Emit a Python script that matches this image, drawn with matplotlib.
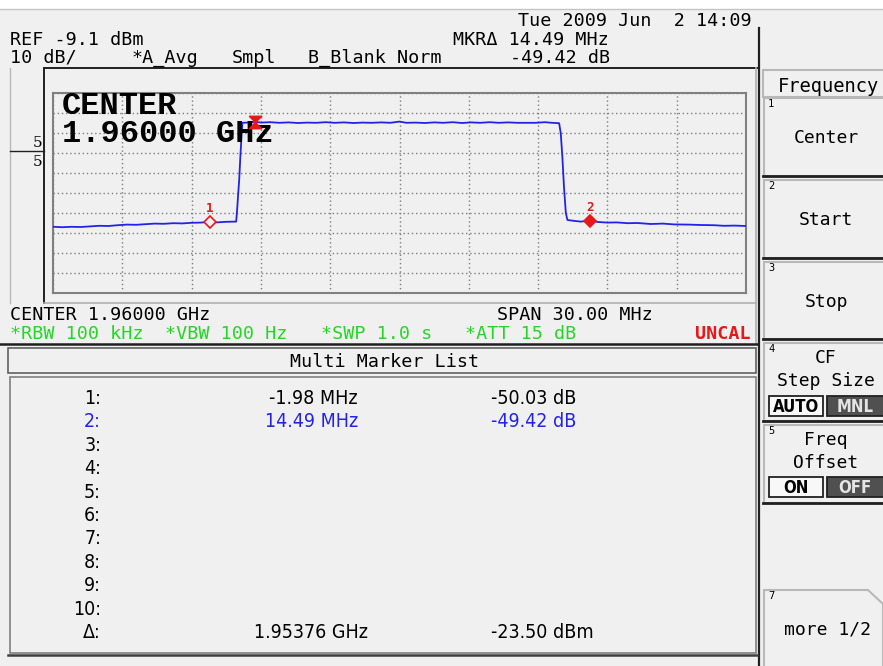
import numpy as np
import matplotlib.pyplot as plt
from matplotlib.patches import Rectangle, Polygon
from matplotlib.path import Path

# analyzer settings
center_mhz = 1960.0
span_mhz = 30.0
ref_dbm = -9.1
db_per_div = 10.0

# trace (offset from centre in MHz, level in dBm)
trace_offset_mhz = [-15.00, -14.60, -14.20, -13.80, -13.40, -13.00, -12.60, -12.20,
                    -11.80, -11.40, -11.00, -10.60, -10.20, -9.80, -9.40, -9.00,
                    -8.60, -8.24, -7.90, -7.50, -7.07, -7.02, -6.98, -6.94, -6.89,
                    -6.84, -6.80, -6.60, -6.24, -6.00, -5.60, -5.20, -4.80, -4.40,
                    -4.00, -3.60, -3.20, -2.80, -2.40, -2.00, -1.60, -1.20, -0.80,
                    -0.40, 0.00, 0.30, 0.70, 1.10, 1.50, 1.90, 2.30, 2.70, 3.10,
                    3.50, 3.90, 4.30, 4.70, 5.10, 5.50, 5.90, 6.30, 6.60, 6.91,
                    6.98, 7.05, 7.12, 7.20, 7.27, 7.60, 7.85, 8.25, 8.60, 9.00,
                    9.40, 9.87, 10.30, 10.88, 11.40, 11.88, 12.50, 13.05, 13.60,
                    14.05, 14.50, 15.00]
trace_dbm = [-76.0, -76.2, -76.0, -76.1, -75.8, -75.5, -75.6, -75.2,
             -74.9, -75.0, -74.7, -74.4, -74.5, -74.2, -74.3, -74.0,
             -73.9, -73.5, -73.8, -73.5, -73.4, -66.0, -59.0, -52.6, -41.0,
             -31.0, -24.0, -23.9, -23.5, -23.9, -23.7, -24.0, -23.8, -24.1,
             -23.9, -24.0, -23.7, -24.0, -23.8, -24.1, -23.9, -24.0, -23.8,
             -24.0, -23.4, -24.0, -23.9, -24.1, -23.8, -24.0, -23.7, -24.1, -23.8,
             -24.0, -23.7, -24.0, -23.8, -24.0, -24.0, -24.0, -23.7, -24.0, -24.2,
             -29.1, -41.0, -56.0, -69.1, -72.6, -73.1, -73.4, -72.9, -73.6, -73.9,
             -73.8, -74.2, -74.1, -74.6, -74.4, -74.8, -74.9, -75.1, -75.2,
             -75.5, -75.4, -75.6]

# delta reference marker and the multi marker list
delta_freq_ghz = 1.95376
delta_dbm = -23.50
marker_ids = ['1', '2']
marker_rel_mhz = [-1.98, 14.49]
marker_rel_db = [-50.03, -49.42]
row_labels = ['1:', '2:', '3:', '4:', '5:', '6:', '7:', '8:', '9:', '10:', 'Δ:']

BG = '#f0f0f0'
BLUE = '#2323e8'
RED = '#e81818'
GREEN = '#22d822'
MONO = 'DejaVu Sans Mono'
NARROW = ['Liberation Sans Narrow', 'DejaVu Sans']

fig = plt.figure(figsize=(8.83, 6.66), dpi=100)
fig.patch.set_facecolor(BG)

# screen chrome in pixel coordinates
bg = fig.add_axes([0, 0, 1, 1])
bg.set_xlim(0, 883)
bg.set_ylim(666, 0)
bg.axis('off')

bg.add_patch(Rectangle((0, 0), 883, 8.5, fc='white', ec='none'))
bg.plot([0, 883], [8.5, 8.5], color='#c4c4c4', lw=1)
bg.plot([759, 759], [28, 666], color='#202020', lw=1.6)
bg.plot([44, 757], [68, 68], color='#202020', lw=1.4)
bg.plot([44, 44], [68, 303], color='#202020', lw=1.4)
bg.plot([756, 756], [68, 343], color='#b0b0b0', lw=1.2)
bg.plot([44, 756], [303, 303], color='#b0b0b0', lw=1.2)
bg.plot([10, 10], [68, 303], color='#b8b8b8', lw=1)
bg.plot([10, 44], [151, 151], color='#202020', lw=1)
bg.text(42, 147, '5', fontsize=11, family='DejaVu Serif', ha='right', va='baseline')
bg.text(42, 166, '5', fontsize=11, family='DejaVu Serif', ha='right', va='baseline')

def t(x, y, s, color='black', ha='left', size=13.2, family=MONO, **kw):
    bg.text(x, y, s, color=color, ha=ha, va='baseline', fontsize=size,
            family=family, **kw)

def tn(x, y, s, **kw):
    t(x, y, s, size=14, family=NARROW, stretch='condensed', **kw)

mkr2_mhz = marker_rel_mhz[1]
mkr2_db = marker_rel_db[1]
t(752, 26, 'Tue 2009 Jun  2 14:09', ha='right')
t(10, 45, 'REF %.1f dBm' % ref_dbm)
t(10, 63, '%d dB/' % db_per_div)
t(132, 63, '*A_Avg')
t(232, 63, 'Smpl')
t(308, 63, 'B_Blank Norm')
t(453, 45, 'MKRΔ %.2f MHz' % mkr2_mhz)
t(510, 63, '%.2f dB' % mkr2_db)

t(10, 320, 'CENTER %.5f GHz' % (center_mhz / 1000))
t(497, 320, 'SPAN %.2f MHz' % span_mhz)
t(10, 339, '*RBW 100 kHz', color=GREEN)
t(165, 339, '*VBW 100 Hz', color=GREEN)
t(321, 339, '*SWP 1.0 s', color=GREEN)
t(465, 339, '*ATT 15 dB', color=GREEN)
t(751, 339, 'UNCAL', color=RED, ha='right', weight='bold')

# multi marker list
bg.plot([0, 757], [343.5, 343.5], color='#202020', lw=1.8)
bg.add_patch(Rectangle((8, 348), 748, 25, fc=BG, ec='#606060', lw=1.2))
t(385, 367, 'Multi Marker List', ha='center')
bg.add_patch(Rectangle((10, 377), 746, 276, fc=BG, ec='#808080', lw=1.2))
bg.plot([8, 757], [655, 655], color='#404040', lw=1.8)

row_y = np.linspace(404, 638, len(row_labels))
for i, lab in enumerate(row_labels):
    col = BLUE if lab == '2:' else 'black'
    tn(101, row_y[i], lab, color=col, ha='right')
for i in range(len(marker_ids)):
    col = BLUE if i == 1 else 'black'
    tn(358, row_y[i], '%.2f MHz' % marker_rel_mhz[i], color=col, ha='right')
    tn(491, row_y[i], '%.2f dB' % marker_rel_db[i], color=col)
tn(368, row_y[-1], '%.5f GHz' % delta_freq_ghz, ha='right')
tn(491, row_y[-1], '%.2f dBm' % delta_dbm)

# soft keys
bg.add_patch(Rectangle((763, 70), 125, 27, fc=BG, ec='#b8b8b8', lw=1.5))
t(828, 92, 'Frequency', ha='center', size=13.5)
keys = [(98, 176, '1', ['Center']), (180, 258, '2', ['Start']),
        (262, 339, '3', ['Stop']), (343, 421, '4', ['CF', 'Step Size']),
        (425, 503, '5', ['Freq', 'Offset'])]
for top, bot, num, lines in keys:
    bg.add_patch(Rectangle((764, top), 124, bot - top, fc=BG, ec='#b8b8b8', lw=1.5))
    bg.plot([763, 883], [bot, bot], color='#202020', lw=2)
    t(768, top + 9, num, size=7.5)
    if len(lines) == 1:
        t(826, top + 45, lines[0], ha='center', size=13)
    else:
        t(826, top + 20, lines[0], ha='center', size=13)
        t(826, top + 43, lines[1], ha='center', size=13)
for y0, a, b in [(396, 'AUTO', 'MNL'), (477, 'ON', 'OFF')]:
    bg.add_patch(Rectangle((769, y0), 54, 20, fc='#f8f8f8', ec='#202020', lw=1.3))
    bg.add_patch(Rectangle((827, y0), 60, 20, fc='#505050', ec='#202020', lw=1.3))
    t(796, y0 + 16, a, ha='center', size=12, family=NARROW, weight='bold',
      stretch='condensed')
    t(855, y0 + 16, b, ha='center', size=12, family=NARROW, weight='bold',
      stretch='condensed', color='#e4e4e4')
bg.add_patch(Polygon([(764, 666), (764, 590), (868, 590), (883, 604), (883, 666)],
                     closed=False, fc=BG, ec='#b8b8b8', lw=1.5))
t(768, 599, '7', size=7.5)
t(828, 635, 'more 1/2', ha='center', size=13)

# trace display
ax = fig.add_axes([53 / 883, 1 - 293 / 666, 693 / 883, 200 / 666])
ax.set_facecolor(BG)
lo = center_mhz - span_mhz / 2
hi = center_mhz + span_mhz / 2
ax.set_xlim(lo, hi)
ax.set_ylim(ref_dbm - 10 * db_per_div, ref_dbm)
ax.set_xticks(np.linspace(lo, hi, 11))
ax.set_yticks(np.linspace(ref_dbm - 10 * db_per_div, ref_dbm, 11))
ax.tick_params(length=0, labelbottom=False, labelleft=False)
ax.grid(True, color='#7c7c7c', ls=(0, (1, 2)), lw=1)
for s in ax.spines.values():
    s.set_color('#808080')
    s.set_linewidth(1.5)

freq = center_mhz + np.array(trace_offset_mhz)
ax.plot(freq, trace_dbm, color=BLUE, lw=1.3, zorder=3)

bowtie = Path([(-1, 1), (1, 1), (0, 0), (1, -1), (-1, -1), (0, 0), (-1, 1)])
dref = delta_freq_ghz * 1000
ax.plot([dref], [delta_dbm], marker=bowtie, ms=9, color=RED, zorder=5)
for i, mid in enumerate(marker_ids):
    mx = dref + marker_rel_mhz[i]
    my = delta_dbm + marker_rel_db[i]
    face = BG if i == 0 else RED
    ax.plot([mx], [my], marker='D', ms=6.5, mfc=face, mec=RED, mew=1.2, zorder=5)
    ax.annotate(mid, (mx, my), xytext=(0, 5), textcoords='offset points',
                ha='center', va='bottom', color=RED, fontsize=9, weight='bold',
                family=MONO, zorder=6)

big = dict(transform=ax.transAxes, family='Liberation Mono', weight='bold',
           fontsize=23, va='baseline', zorder=4)
ax.text(0.013, 0.895, 'CENTER', **big)
ax.text(0.013, 0.755, '%.5f GHz' % (center_mhz / 1000), **big)

fig.savefig('out.png', dpi=100, facecolor=BG)
